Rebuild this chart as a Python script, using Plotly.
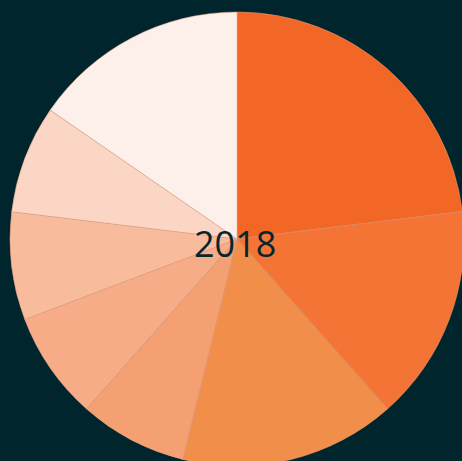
import plotly.graph_objects as go

categories = ["Cat 1", "Cat 2", "Cat 3", "Cat 4", "Cat 5", "Cat 6", "Cat 7", "Cat 8"]
values = [3, 2, 2, 1, 1, 1, 1, 2]
colors = ["#f26726", "#f37435", "#f18e4a", "#f4a072", "#f6ad87", "#f8bb9b", "#fbd6c4", "#fdefea"]
center_label = "2018"

fig = go.Figure(
    go.Pie(
        labels=categories,
        values=values,
        sort=False,
        direction="clockwise",
        rotation=0,
        textinfo="none",
        hoverinfo="label+value+percent",
        marker=dict(colors=colors, line=dict(color="#eaa282", width=0.5)),
        showlegend=False,
    )
)

fig.add_annotation(
    text=center_label,
    x=0.495, y=0.49, xref="paper", yref="paper",
    xanchor="center", yanchor="middle",
    showarrow=False,
    font=dict(family="Open Sans", size=36, color="#06252d"),
)

fig.update_layout(
    width=474,
    height=478,
    margin=dict(l=10, r=10, t=12, b=12),
    paper_bgcolor="#01252c",
    plot_bgcolor="#01252c",
)

fig.write_html(
    "out.html",
    config={"displayModeBar": False},
    post_script="document.body.style.margin='0';document.body.style.overflow='hidden';document.documentElement.style.overflow='hidden';document.body.style.background='#01252c';",
)
